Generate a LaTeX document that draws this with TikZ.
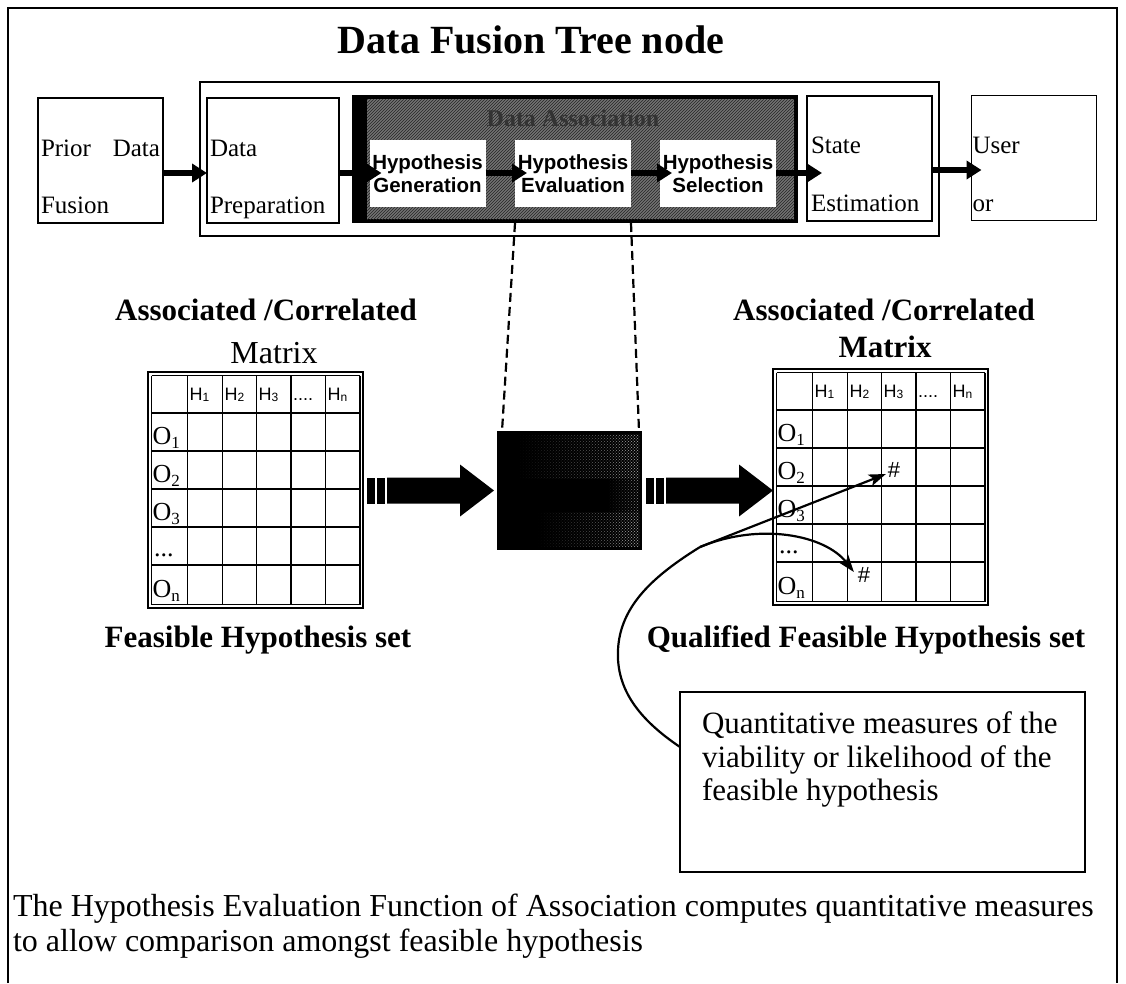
\documentclass[tikz,border=0pt]{standalone}
\usepackage{fontspec}
\setmainfont{Liberation Serif}
\setsansfont{Liberation Sans}
\usetikzlibrary{arrows.meta,patterns,calc,fadings}
\newcommand\fsz[1]{\fontsize{#1}{#1}\selectfont}
\newcommand\hsub[2]{#1\raisebox{-1pt}{\fsz{12}#2}}
\newcommand\osub[2]{#1\raisebox{-4pt}{\fsz{17}#2}}

\tikzset{
  hypmatrix/.pic={
    \coordinate (-o) at (0,0);
    \draw[line width=1.2pt] (0,0) rectangle (215,236);
    \foreach \x in {3.5,39.5,74.5,108.5,143,177.5,212}
      \draw[line width=1.8pt] (\x,3.5) -- (\x,232.5);
    \foreach \y in {3.5,41,79,117,155,193,232.5}
      \draw[line width=1.8pt] (3.5,\y) -- (212,\y);
    \node[hlabel] (-h1) at (41.5,28) {\hsub{H}{1}};
    \node[hlabel] (-h2) at (76.5,28) {\hsub{H}{2}};
    \node[hlabel] (-h3) at (110.5,28) {\hsub{H}{3}};
    \node[hlabel] (-hd) at (145,28) {....};
    \node[hlabel] (-hn) at (179.5,28) {\hsub{H}{n}};
    \node[olabel] (-o1) at (4.5,72) {\osub{O}{1}};
    \node[olabel] (-o2) at (4.5,110) {\osub{O}{2}};
    \node[olabel] (-o3) at (4.5,148) {\osub{O}{3}};
    \node[olabel] (-od) at (6,184) {...};
    \node[olabel] (-on) at (4.5,225) {\osub{O}{n}};
  },
  stripedarrow/.pic={
    \fill (0,-13) rectangle (8,13);
    \fill (10,-13) rectangle (18,13);
    \fill (20,-13) -- (93,-13) -- (93,-26) -- (127,0) -- (93,26) -- (93,13) -- (20,13) -- cycle;
  }
}

\begin{document}
\begin{tikzpicture}[x=1pt,y=-1pt,
  every node/.style={inner sep=0pt, outer sep=0pt},
  stagebox/.style={draw, line width=1.8pt, fill=white, minimum width=#1, minimum height=125},
  boxtext/.style={anchor=base west, font=\fsz{25}},
  hypbox/.style={fill=white, minimum width=116, minimum height=67, align=center,
    font=\fontsize{20.5}{23}\selectfont\sffamily\bfseries},
  flow/.style={line width=6pt, -{Triangle[length=15pt,width=18pt]}},
  dashline/.style={line width=2.2pt, dash pattern=on 9pt off 5pt},
  pointer/.style={line width=2.2pt, -{Stealth[length=17pt,width=12pt,inset=4pt]}},
  hlabel/.style={anchor=base west, font=\fsz{18}\sffamily},
  olabel/.style={anchor=base west, font=\fsz{26}},
  boldhead/.style={anchor=base, font=\fsz{31}\bfseries},
  bodytext/.style={anchor=base west, font=\fsz{32}},
  calltext/.style={anchor=base west, font=\fsz{31}},
  hashmark/.style={font=\fsz{22}\sffamily},
  grain/.style={pattern=crosshatch dots, pattern color=black!40, path fading=west}
]
\useasboundingbox (0,0) rectangle (1126,983);

% outer frame
\draw[line width=2pt] (8,983) -- (8,8) -- (1117,8) -- (1117,983);

\node[anchor=base, font=\fsz{40}\bfseries] (title) at (531,53) {Data Fusion Tree node};

% data fusion tree node
\node[draw, line width=1.8pt, minimum width=739, minimum height=154] (tree) at (569.5,159) {};
\node[stagebox=125] (prior) at (100.5,160.5) {};
\node[stagebox=132] (prep) at (273,160.5) {};
\node[fill=black, minimum width=446, minimum height=128] (dark) at (575,159) {};
\fill[black!55] ($(dark.north west)+(15,4)$) rectangle ($(dark.south east)+(-4,-4)$);
\fill[pattern=north east lines, pattern color=black!85]
  ($(dark.north west)+(15,4)$) rectangle ($(dark.south east)+(-4,-4)$);
\node[anchor=base, font=\fsz{24}\bfseries, text=black!80] (assoc) at (573,126) {Data Association};
\node[hypbox] (gen) at (427.5,173.5) {Hypothesis\\Generation};
\node[hypbox] (eval) at (573,173.5) {Hypothesis\\Evaluation};
\node[hypbox] (sel) at (718,173.5) {Hypothesis\\Selection};
\node[stagebox=125] (state) at (869.5,158.5) {};
\node[stagebox=125] (user) at (1034,158) {};

\node[boxtext] (priorA) at ($(prior.north west)+(3,58)$) {\makebox[119pt][s]{Prior Data}};
\node[boxtext] (priorB) at ($(prior.north west)+(3,115)$) {Fusion};
\node[boxtext] (prepA) at ($(prep.north west)+(3,58)$) {Data};
\node[boxtext] (prepB) at ($(prep.north west)+(3,115)$) {Preparation};
\node[boxtext] (stateA) at ($(state.north west)+(4,57)$) {State};
\node[boxtext] (stateB) at ($(state.north west)+(4,115)$) {Estimation};
\node[boxtext] (userA) at ($(user.north west)+(1,58)$) {User};
\node[boxtext] (userB) at ($(user.north west)+(1,116)$) {or};

\coordinate (rowA) at (0,173);
\coordinate (rowB) at (0,170);
\draw[flow] (prior.east |- rowA) -- (prep.west |- rowA);
\draw[flow] (prep.east |- rowA) -- ($(gen.west |- rowA)+(12,0)$);
\draw[flow] (gen.east |- rowA) -- ($(eval.west |- rowA)+(12,0)$);
\draw[flow] (eval.east |- rowA) -- ($(sel.west |- rowA)+(12,0)$);
\draw[flow] (sel.east |- rowA) -- ($(state.west |- rowA)+(15,0)$);
\draw[flow] (state.east |- rowB) -- ($(user.west |- rowB)+(10,0)$);

% hypothesis evaluation detail: black block with grainy grey texture
\node[fill=black, minimum width=145, minimum height=119] (evalbox) at (569.5,490.5) {};
\fill[grain] ($(evalbox.north west)+(20,4)$) rectangle ($(evalbox.east)+(-3,-12)$);
\fill[grain] ($(evalbox.west)+(40,22)$) rectangle ($(evalbox.south east)+(-3,-4)$);
\fill[grain] ($(evalbox.north east)+(-35,4)$) rectangle ($(evalbox.south east)+(-3,-4)$);
\draw[dashline] (eval.west |- dark.south) -- ($(evalbox.north west)+(5,0)$);
\draw[dashline] (eval.east |- dark.south) -- ($(evalbox.north east)+(-3,0)$);

% matrices
\pic (lm) at (148,372) {hypmatrix};
\pic (rm) at (773,369) {hypmatrix};
\node[boldhead] (lmtitle) at (266,320) {Associated /Correlated};
\node[anchor=base, font=\fsz{32}] (lmsub) at (274,363) {Matrix};
\node[boldhead] (rmtitle) at (884,320) {Associated /Correlated};
\node[boldhead] (rmsub) at (885,357) {Matrix};
\node[boldhead] (lmcap) at (258,647) {Feasible Hypothesis set};
\node[boldhead] (rmcap) at (866,647) {Qualified Feasible Hypothesis set};

\node[hashmark] (hashA) at ($(rm-o)+(121,101)$) {\#};
\node[hashmark] (hashB) at ($(rm-o)+(91,206)$) {\#};

\pic at ($(evalbox.west)+(-130,0)$) {stripedarrow};
\pic at ($(evalbox.east)+(4,0)$) {stripedarrow};

% callout and its leaders
\node[draw, line width=1.8pt, minimum width=405, minimum height=180] (callout) at (882.5,782) {};
\node[calltext] (c1) at (702,733) {Quantitative measures of the};
\node[calltext] (c2) at (702,767) {viability or likelihood of the};
\node[calltext] (c3) at (702,800) {feasible hypothesis};

\coordinate (hub) at (700,547);
\draw[line width=2.2pt] ($(callout.north west)+(0,55)$) .. controls (640,720) and (616,690) .. (618,650)
  .. controls (620,605) and (655,575) .. (hub);
\draw[pointer] (hub) -- ($(hashA.west)+(-2,4)$);
\draw[pointer] (hub) .. controls (760,522) and (825,535) .. ($(hashB.west)+(-4,-3)$);

\node[bodytext] (note1) at (13,916) {The Hypothesis Evaluation Function of Association computes quantitative measures};
\node[bodytext] (note2) at (13,951) {to allow comparison amongst feasible hypothesis};
\end{tikzpicture}
\end{document}
